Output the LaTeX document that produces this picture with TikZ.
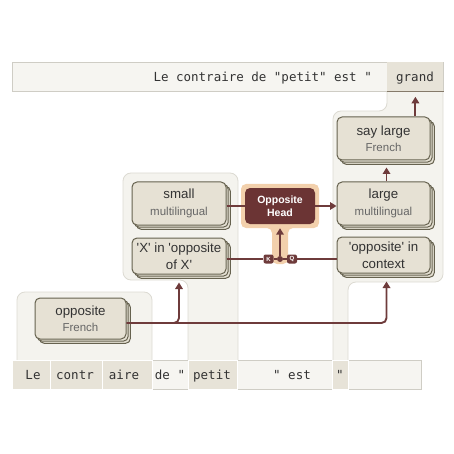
\documentclass[tikz,border=0pt]{standalone}
\usepackage{fontspec}
\setmainfont{Liberation Sans}[Ligatures=TeXOff]
\newfontfamily\monofont{DejaVu Sans Mono}
\usetikzlibrary{arrows.meta,shadows}
\definecolor{panelfill}{HTML}{F4F3EE}
\definecolor{panelline}{HTML}{DCDAD2}
\definecolor{barfill}{HTML}{F6F5F1}
\definecolor{barline}{HTML}{CFCDC5}
\definecolor{cellfill}{HTML}{E7E3D8}
\definecolor{nodefill}{HTML}{E6E1D4}
\definecolor{nodeline}{HTML}{66624F}
\definecolor{maroon}{HTML}{6B3434}
\definecolor{arrowc}{HTML}{6E3B3B}
\definecolor{halo}{HTML}{F2D0AC}
\definecolor{txt}{HTML}{333333}
\definecolor{subtxt}{HTML}{666666}
\definecolor{cellmark}{HTML}{857A6A}
\newcommand\subl[1]{{\fontsize{11.5}{14}\selectfont\color{subtxt}#1}}
\begin{document}
\begin{tikzpicture}[x=1pt,y=-1pt,
  panel/.style={fill=panelfill, draw=panelline, line width=0.8pt, rounded corners=8pt},
  nodebox/.style={draw=nodeline, fill=nodefill, line width=1pt, rounded corners=5pt,
    align=center, inner sep=0pt, text=txt, font=\fontsize{13.3}{16.5}\selectfont,
    copy shadow={shadow xshift=4.4pt, shadow yshift=-4.4pt, fill=nodefill, draw=nodeline, line width=1pt},
    copy shadow={shadow xshift=2.2pt, shadow yshift=-2.2pt, fill=nodefill, draw=nodeline, line width=1pt}},
  headbox/.style={fill=maroon, draw=none, rounded corners=5pt, align=center, inner sep=0pt,
    text=white, font=\bfseries\fontsize{10.5}{12.5}\selectfont, minimum width=70pt, minimum height=36pt},
  conn/.style={draw=arrowc, line width=1.9pt},
  arr/.style={conn, -{Triangle[width=7.5pt,length=6.5pt]}},
  tag/.style={fill=arrowc, rounded corners=2pt, inner sep=0pt, minimum width=10pt, minimum height=9pt,
    text=white, font=\bfseries\fontsize{6}{6}\selectfont},
  cell/.style={fill=cellfill, draw=white, line width=0.8pt, inner sep=0pt, anchor=north west, minimum height=29pt},
  tok/.style={font=\monofont\fontsize{12.5}{14}\selectfont, text=txt, anchor=base, inner sep=0pt}
]
\useasboundingbox (0,0) rectangle (454,454);

% column panels
\path[panel] (17,360) -- (17,292) -- (152,292) -- (152,360);
\path[panel] (188,360) -- (188,280) -- (123,280) -- (123,173) -- (238,173) -- (238,360);
\path[panel] (348,360) -- (348,282) -- (443,282) -- (443,70) -- (387,70) -- (387,111) -- (333,111) -- (333,360);

% top bar
\draw[fill=barfill, draw=barline, line width=0.8pt] (12,62) rectangle (443,91);
\node[cell, draw=none, minimum width=56pt] (grand) at (387,62) {};
\draw[draw=cellmark, line width=1.2pt] (grand.south west) -- (grand.south east);
\node[tok, anchor=base east] (toptext) at (372,82) {Le contraire de "petit" est "};
\node[tok] (grandtxt) at (415,82) {grand};

% token row
\draw[fill=barfill, draw=barline, line width=0.8pt] (12,360) rectangle (421,389);
\node[cell, minimum width=38pt] (cLe) at (12,360) {};
\node[cell, minimum width=52pt] (cContr) at (50,360) {};
\node[cell, minimum width=50pt] (cAire) at (102,360) {};
\node[cell, minimum width=49pt] (cPetit) at (188,360) {};
\node[cell, minimum width=16pt] (cQuote) at (332,360) {};
\node[tok] (tLe) at (33,379) {Le};
\node[tok] (tContr) at (75,379) {contr};
\node[tok] (tAire) at (124,379) {aire};
\node[tok] (tDe) at (170,379) {de "};
\node[tok] (tPetit) at (212,379) {petit};
\node[tok] (tEst) at (292,379) {" est};
\node[tok] (tQ) at (340,379) {"};

% halo around head
\fill[halo, rounded corners=5pt] (241,184) -- (319,184) -- (319,228) -- (288,228) -- (288,264) -- (272,264) -- (272,228) -- (241,228) -- cycle;

% nodes
\node[nodebox, minimum width=91pt, minimum height=41pt] (oppFr) at (80.5,318.5) {opposite\\\subl{French}};
\node[nodebox, minimum width=94pt, minimum height=43pt] (small) at (179,203.5) {small\\\subl{multilingual}};
\node[nodebox, minimum width=94pt, minimum height=36pt] (xin) at (179,256) {'X' in 'opposite\\of X'};
\node[nodebox, minimum width=93pt, minimum height=43pt] (saylarge) at (383.5,138.5) {say large\\\subl{French}};
\node[nodebox, minimum width=93pt, minimum height=43pt] (large) at (383.5,203.5) {large\\\subl{multilingual}};
\node[nodebox, minimum width=93pt, minimum height=36pt] (ctx) at (383.5,255) {'opposite' in\\context};
\node[headbox] (head) at (280,206) {Opposite\\Head};

% junction
\coordinate (J) at (280,259);
\node[tag] (K) at (268.5,259) {K};
\node[tag] (Q) at (292,259) {Q};
\node[circle, fill=arrowc, inner sep=0pt, minimum size=6pt] (dot) at (J) {};

% connectors
\draw[conn] (small.east |- head.west) -- (head.west);
\draw[arr] (head.east) -- (head.east -| large.west);
\draw[arr] ([xshift=3pt]large.north) -- ([xshift=3pt,yshift=-7pt]saylarge.south);
\draw[arr] (grand.south |- saylarge.north) -- ([yshift=-5pt]grand.south);
\draw[conn] (xin.east |- J) -- (K.west);
\draw[conn] (K.east) -- (dot);
\draw[conn] (dot) -- (Q.west);
\draw[conn] (Q.east) -- (ctx.west |- J);
\draw[arr] (dot) -- ([yshift=-4pt]head.south);
\draw[arr, rounded corners=5pt] ([yshift=-4.5pt]oppFr.east) -| ([yshift=-8pt]xin.south);
\draw[arr, rounded corners=5pt] ([yshift=-4.5pt]oppFr.east) -| ([xshift=3pt,yshift=-8pt]ctx.south);
\end{tikzpicture}
\end{document}
